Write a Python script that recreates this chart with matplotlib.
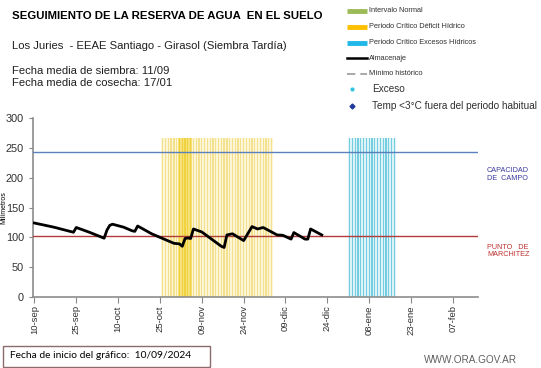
import numpy as np
import pandas as pd
import matplotlib
matplotlib.use('Agg')
import matplotlib.pyplot as plt
import matplotlib.dates as mdates
from matplotlib.lines import Line2D
from matplotlib.patches import Rectangle

plt.rcParams['font.family'] = ['Liberation Sans', 'DejaVu Sans']

# --- datos ---
inicio = '2024-09-10'
fin_eje = '2025-02-16'

fechas_alm = ['2024-09-10', '2024-09-17', '2024-09-24', '2024-09-25', '2024-09-30',
              '2024-10-05', '2024-10-06', '2024-10-07', '2024-10-08', '2024-10-12',
              '2024-10-15', '2024-10-16', '2024-10-17', '2024-10-22', '2024-10-26',
              '2024-10-30', '2024-11-01', '2024-11-02', '2024-11-03', '2024-11-04',
              '2024-11-05', '2024-11-06', '2024-11-09', '2024-11-16', '2024-11-17',
              '2024-11-18', '2024-11-20', '2024-11-24', '2024-11-27', '2024-11-29',
              '2024-12-01', '2024-12-06', '2024-12-08', '2024-12-11', '2024-12-12',
              '2024-12-16', '2024-12-17', '2024-12-18', '2024-12-22']
almacenaje = [124, 117, 108.5, 116.5, 108,
              98.5, 112, 120, 122, 117,
              111, 110, 119, 106, 98,
              90, 89, 85, 98, 99,
              98, 114, 109, 85, 83,
              104, 106, 94.5, 118, 114,
              116.5, 104, 103.5, 97, 108,
              97, 97, 114, 104]

capacidad_campo = 243
punto_marchitez = 102

deficit = ('2024-10-26', '2024-12-04')
deficit_fuerte = ('2024-11-01', '2024-11-05')
excesos = ('2025-01-01', '2025-01-17')
altura_periodo = 267

tick_labels = ['10-sep', '25-sep', '10-oct', '25-oct', '09-nov', '24-nov',
               '09-dic', '24-dic', '08-ene', '23-ene', '07-feb']

leyenda = ['Intervalo Normal', 'Periodo Crítico Déficit Hídrico',
           'Periodo Crítico Excesos Hídricos', 'Almacenaje', 'Mínimo histórico',
           'Exceso', 'Temp <3°C fuera del periodo habitual']

# --- figura ---
W, H = 541, 368
fig = plt.figure(figsize=(W / 100, H / 100), dpi=100)
ax = fig.add_axes([33 / W, 1 - 297 / H, 445 / W, 179 / H])


def barras(periodo, claro, fuerte):
    d = mdates.date2num(pd.date_range(periodo[0], periodo[1], freq='D'))
    ax.bar(d, altura_periodo, width=1.0, color=claro, zorder=1)
    ax.bar(d, altura_periodo, width=0.45, color=fuerte, zorder=1.5)


barras(deficit, '#FCF6D6', '#F4E190')
barras(deficit_fuerte, '#F6E178', '#EFD23E')
barras(excesos, '#DCF2F7', '#72CEE0')

ax.axhline(capacidad_campo, color='#5B80BE', lw=1.0, zorder=3)
ax.axhline(punto_marchitez, color='#B23A3A', lw=1.0, zorder=3)

x_alm = mdates.date2num(pd.to_datetime(fechas_alm))
ax.plot(x_alm, almacenaje, color='black', lw=2.0, zorder=4)

x0 = mdates.date2num(pd.Timestamp(inicio)) - 0.5
x1 = mdates.date2num(pd.Timestamp(fin_eje))
ax.set_xlim(x0, x1)
ax.set_ylim(0, 300)
ax.set_yticks(range(0, 301, 50))
ticks = mdates.date2num(pd.date_range(inicio, periods=len(tick_labels), freq='15D'))
ax.set_xticks(ticks)
ax.set_xticklabels(tick_labels, rotation=90, fontsize=6.8, color='#303030')
ax.tick_params(axis='y', labelsize=7.8, labelcolor='#303030', length=3, color='#888888')
ax.tick_params(axis='x', length=4, color='#888888', pad=2)
for s in ['top', 'right']:
    ax.spines[s].set_visible(False)
for s in ['left', 'bottom']:
    ax.spines[s].set_color('#8C8C8C')
    ax.spines[s].set_linewidth(1.2)
ax.set_ylabel('Milímetros', fontsize=5)
ax.yaxis.set_label_coords(-0.058, 0.5)

# --- textos ---
fig.text(12 / W, 1 - 16 / H, 'SEGUIMIENTO DE LA RESERVA DE AGUA  EN EL SUELO',
         fontsize=8.2, fontweight='bold', va='center', ha='left')
fig.text(12 / W, 1 - 46 / H, 'Los Juries  - EEAE Santiago - Girasol (Siembra Tardía)',
         fontsize=8.1, va='center', ha='left', color='#202020')
fig.text(12 / W, 1 - 71 / H, 'Fecha media de siembra: 11/09',
         fontsize=8.1, va='center', ha='left', color='#202020')
fig.text(12 / W, 1 - 82.5 / H, 'Fecha media de cosecha: 17/01',
         fontsize=8.1, va='center', ha='left', color='#202020')

fig.text(487 / W, 1 - 174.5 / H, 'CAPACIDAD\nDE  CAMPO', fontsize=5.2,
         color='#3A3AA0', va='center', ha='left', linespacing=1.15)
fig.text(487 / W, 1 - 251 / H, 'PUNTO   DE\nMARCHITEZ', fontsize=5.2,
         color='#C03030', va='center', ha='left', linespacing=1.15)

# leyenda (dibujada a mano para respetar los tamaños de letra)
filas = [11, 27, 43, 58, 73.5, 89, 106]
estilos = [
    dict(color='#9BBB59', lw=3.5, solid_capstyle='butt'),
    dict(color='#FFC000', lw=3.5, solid_capstyle='butt'),
    dict(color='#1FB8E8', lw=3.5, solid_capstyle='butt'),
    dict(color='black', lw=1.8),
    dict(color='#999999', lw=1.2, dashes=(5, 3)),
    dict(color='#33C4E0', marker='o', ms=2, ls='none'),
    dict(color='#1F3A9A', marker='D', ms=2.5, ls='none'),
]
for i, (y, est, txt) in enumerate(zip(filas, estilos, leyenda)):
    yf = 1 - y / H
    if 'marker' in est:
        fig.add_artist(Line2D([352 / W], [yf], transform=fig.transFigure, **est))
        fig.text(372 / W, yf, txt, fontsize=7.2, color='#303030', va='center', ha='left')
    else:
        fig.add_artist(Line2D([347 / W, 367 / W], [yf, yf], transform=fig.transFigure, **est))
        fig.text(369 / W, yf, txt, fontsize=5.3, color='#303030', va='center', ha='left')

# pie
fig.patches.append(Rectangle((3 / W, 1 - 367 / H), 207 / W, 21 / H,
                             transform=fig.transFigure, fill=False,
                             edgecolor='#8B6B6B', lw=1.0))
fig.text(10 / W, 1 - 356 / H, 'Fecha de inicio del gráfico:  10/09/2024',
         fontsize=7.4, family=['Lato', 'DejaVu Sans'], va='center', ha='left')
fig.text(424 / W, 1 - 360 / H, 'WWW.ORA.GOV.AR', fontsize=7.2, color='#606060',
         va='center', ha='left')

fig.savefig('out.png', dpi=100)
